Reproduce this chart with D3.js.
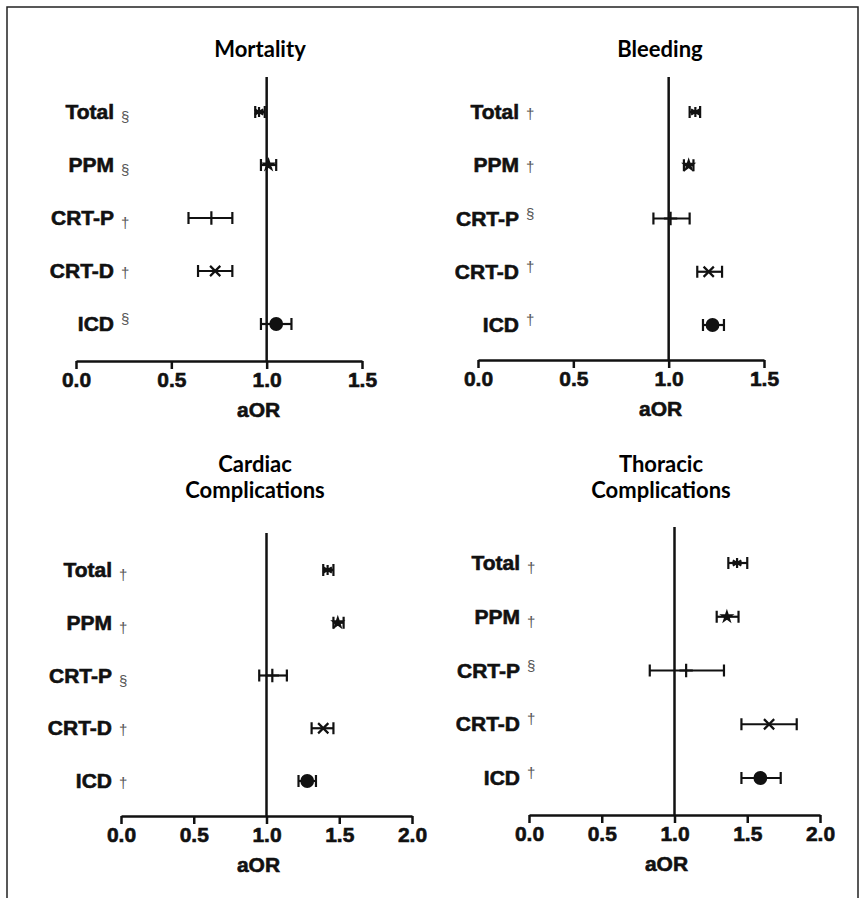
<!DOCTYPE html>
<html>
<head>
<meta charset="utf-8">
<script src="https://cdn.jsdelivr.net/npm/d3@7"></script>
<style>
  body { margin: 0; background: #fff; }
  text { font-family: "Liberation Sans", Arial, sans-serif; }
  .title { font-family: Lato, "Open Sans", sans-serif; font-weight: 700; font-size: 22px; }
  .heavy { stroke: #111; stroke-width: 0.6px; }
</style>
</head>
<body>
<svg id="chart" width="863" height="898"></svg>
<script>
// --- data ---
const categories = ["Total", "PPM", "CRT-P", "CRT-D", "ICD"];
const markerTypes = ["asterisk", "star", "plus", "times", "circle"];

const mortalityOR = [0.96, 1.01, 0.71, 0.73, 1.05];
const mortalityLo = [0.94, 0.97, 0.59, 0.64, 0.97];
const mortalityHi = [0.99, 1.05, 0.82, 0.82, 1.13];
const mortalitySig = ["§", "§", "†", "†", "§"];
const mortalitySigPos = ["sub", "sub", "sub", "base", "sup"];

const bleedingOR = [1.14, 1.105, 1.01, 1.21, 1.23];
const bleedingLo = [1.11, 1.08, 0.92, 1.15, 1.18];
const bleedingHi = [1.165, 1.13, 1.11, 1.28, 1.29];
const bleedingSig = ["†", "†", "§", "†", "†"];
const bleedingSigPos = ["base", "base", "sup", "sup", "sup"];

const cardiacOR = [1.42, 1.49, 1.04, 1.39, 1.28];
const cardiacLo = [1.39, 1.46, 0.95, 1.31, 1.22];
const cardiacHi = [1.46, 1.53, 1.14, 1.46, 1.34];
const cardiacSig = ["†", "†", "§", "†", "†"];
const cardiacSigPos = ["sub", "sub", "sub", "base", "base"];

const thoracicOR = [1.43, 1.36, 1.08, 1.65, 1.59];
const thoracicLo = [1.37, 1.29, 0.83, 1.46, 1.46];
const thoracicHi = [1.50, 1.44, 1.34, 1.84, 1.73];
const thoracicSig = ["†", "†", "§", "†", "†"];
const thoracicSigPos = ["sub", "sub", "sup", "sup", "sup"];

const topTicks = [0, 0.5, 1.0, 1.5];
const bottomTicks = [0, 0.5, 1.0, 1.5, 2.0];

const svg = d3.select("#chart");

// outer frame (open at the bottom)
svg.append("path")
  .attr("d", "M7,898 L7,7 L858,7 L858,898")
  .attr("fill", "none")
  .attr("stroke", "#222")
  .attr("stroke-width", 1.5);

const panels = [
  { title: ["Mortality"], titleX: 260, titleY: 57, or: mortalityOR, lo: mortalityLo, hi: mortalityHi,
    sig: mortalitySig, sigPos: mortalitySigPos, ticks: topTicks,
    x0: 76, x1: 362, axisY: 361, rowTop: 112, rowBottom: 324, lineTop: 77, labelX: 114 },
  { title: ["Bleeding"], titleX: 660, titleY: 57, or: bleedingOR, lo: bleedingLo, hi: bleedingHi,
    sig: bleedingSig, sigPos: bleedingSigPos, ticks: topTicks,
    x0: 478, x1: 764, axisY: 360, rowTop: 112, rowBottom: 325, lineTop: 77, labelX: 519 },
  { title: ["Cardiac", "Complications"], titleX: 255, titleY: 472, or: cardiacOR, lo: cardiacLo, hi: cardiacHi,
    sig: cardiacSig, sigPos: cardiacSigPos, ticks: bottomTicks,
    x0: 121, x1: 412, axisY: 816, rowTop: 570, rowBottom: 781, lineTop: 533, labelX: 112 },
  { title: ["Thoracic", "Complications"], titleX: 661, titleY: 472, or: thoracicOR, lo: thoracicLo, hi: thoracicHi,
    sig: thoracicSig, sigPos: thoracicSigPos, ticks: bottomTicks,
    x0: 529, x1: 820, axisY: 815, rowTop: 563, rowBottom: 778, lineTop: 527, labelX: 520 }
];

const sigDy = { sub: 10, base: 7, sup: 0 };

const symbolFor = {
  asterisk: d3.symbol().type(d3.symbolAsterisk).size(70),
  star: d3.symbol().type(d3.symbolStar).size(22),
  plus: d3.symbol().type(d3.symbolPlus).size(60),
  times: d3.symbol().type(d3.symbolTimes).size(70),
  circle: d3.symbol().type(d3.symbolCircle).size(150)
};

panels.forEach(p => {
  const g = svg.append("g");
  const xMax = d3.max(p.ticks);
  const x = d3.scaleLinear().domain([0, xMax]).range([p.x0, p.x1]);
  const y = d3.scalePoint().domain(categories).range([p.rowTop, p.rowBottom]);

  // title
  const t = g.append("text")
    .attr("class", "title")
    .attr("text-anchor", "middle")
    .attr("x", p.titleX)
    .attr("y", p.titleY);
  p.title.forEach((line, i) => {
    t.append("tspan").attr("x", p.titleX).attr("dy", i === 0 ? 0 : 26).text(line);
  });

  // x axis
  const axis = d3.axisBottom(x).tickValues(p.ticks).tickFormat(d3.format(".1f"))
    .tickSize(8).tickSizeOuter(0).tickPadding(3);
  const gAx = g.append("g")
    .attr("transform", `translate(0,${p.axisY})`)
    .call(axis);
  gAx.select(".domain").attr("stroke", "#111").attr("stroke-width", 2.5);
  gAx.selectAll(".tick line").attr("stroke", "#111").attr("stroke-width", 2.5);
  gAx.selectAll(".tick text")
    .attr("class", "heavy")
    .attr("fill", "#111")
    .style("font-size", "21px")
    .style("font-weight", "bold");

  g.append("text")
    .attr("class", "heavy")
    .attr("x", x(1.0) - 8)
    .attr("y", p.axisY + 56)
    .attr("text-anchor", "middle")
    .style("font-size", "21px")
    .style("font-weight", "bold")
    .attr("fill", "#111")
    .text("aOR");

  // reference line at 1.0
  g.append("line")
    .attr("x1", x(1.0)).attr("x2", x(1.0))
    .attr("y1", p.lineTop).attr("y2", p.axisY)
    .attr("stroke", "#111")
    .attr("stroke-width", 2.5);

  const rows = categories.map((c, i) => ({
    cat: c, or: p.or[i], lo: p.lo[i], hi: p.hi[i], sig: p.sig[i], pos: p.sigPos[i], marker: markerTypes[i]
  }));

  // category labels
  g.selectAll("text.cat").data(rows).join("text")
    .attr("class", "cat heavy")
    .attr("x", p.labelX)
    .attr("y", d => y(d.cat) + 7)
    .attr("text-anchor", "end")
    .style("font-size", "21px")
    .style("font-weight", "bold")
    .attr("fill", "#111")
    .text(d => d.cat);

  g.selectAll("text.sig").data(rows).join("text")
    .attr("class", "sig")
    .attr("x", p.labelX + 7)
    .attr("y", d => y(d.cat) + sigDy[d.pos])
    .style("font-size", "15px")
    .attr("fill", "#555")
    .text(d => d.sig);

  // error bars
  const bars = g.selectAll("g.bar").data(rows).join("g").attr("class", "bar");
  bars.append("line")
    .attr("x1", d => x(d.lo)).attr("x2", d => x(d.hi))
    .attr("y1", d => y(d.cat)).attr("y2", d => y(d.cat))
    .attr("stroke", "#111").attr("stroke-width", 2.2);
  bars.append("line")
    .attr("x1", d => x(d.lo)).attr("x2", d => x(d.lo))
    .attr("y1", d => y(d.cat) - 6).attr("y2", d => y(d.cat) + 6)
    .attr("stroke", "#111").attr("stroke-width", 2.2);
  bars.append("line")
    .attr("x1", d => x(d.hi)).attr("x2", d => x(d.hi))
    .attr("y1", d => y(d.cat) - 6).attr("y2", d => y(d.cat) + 6)
    .attr("stroke", "#111").attr("stroke-width", 2.2);

  bars.append("path")
    .attr("transform", d => `translate(${x(d.or)},${y(d.cat)})`)
    .attr("d", d => symbolFor[d.marker]())
    .attr("fill", d => (d.marker === "circle" || d.marker === "star") ? "#111" : "none")
    .attr("stroke", "#111")
    .attr("stroke-width", d => d.marker === "circle" ? 0 : 2.2);
});
</script>
</body>
</html>
